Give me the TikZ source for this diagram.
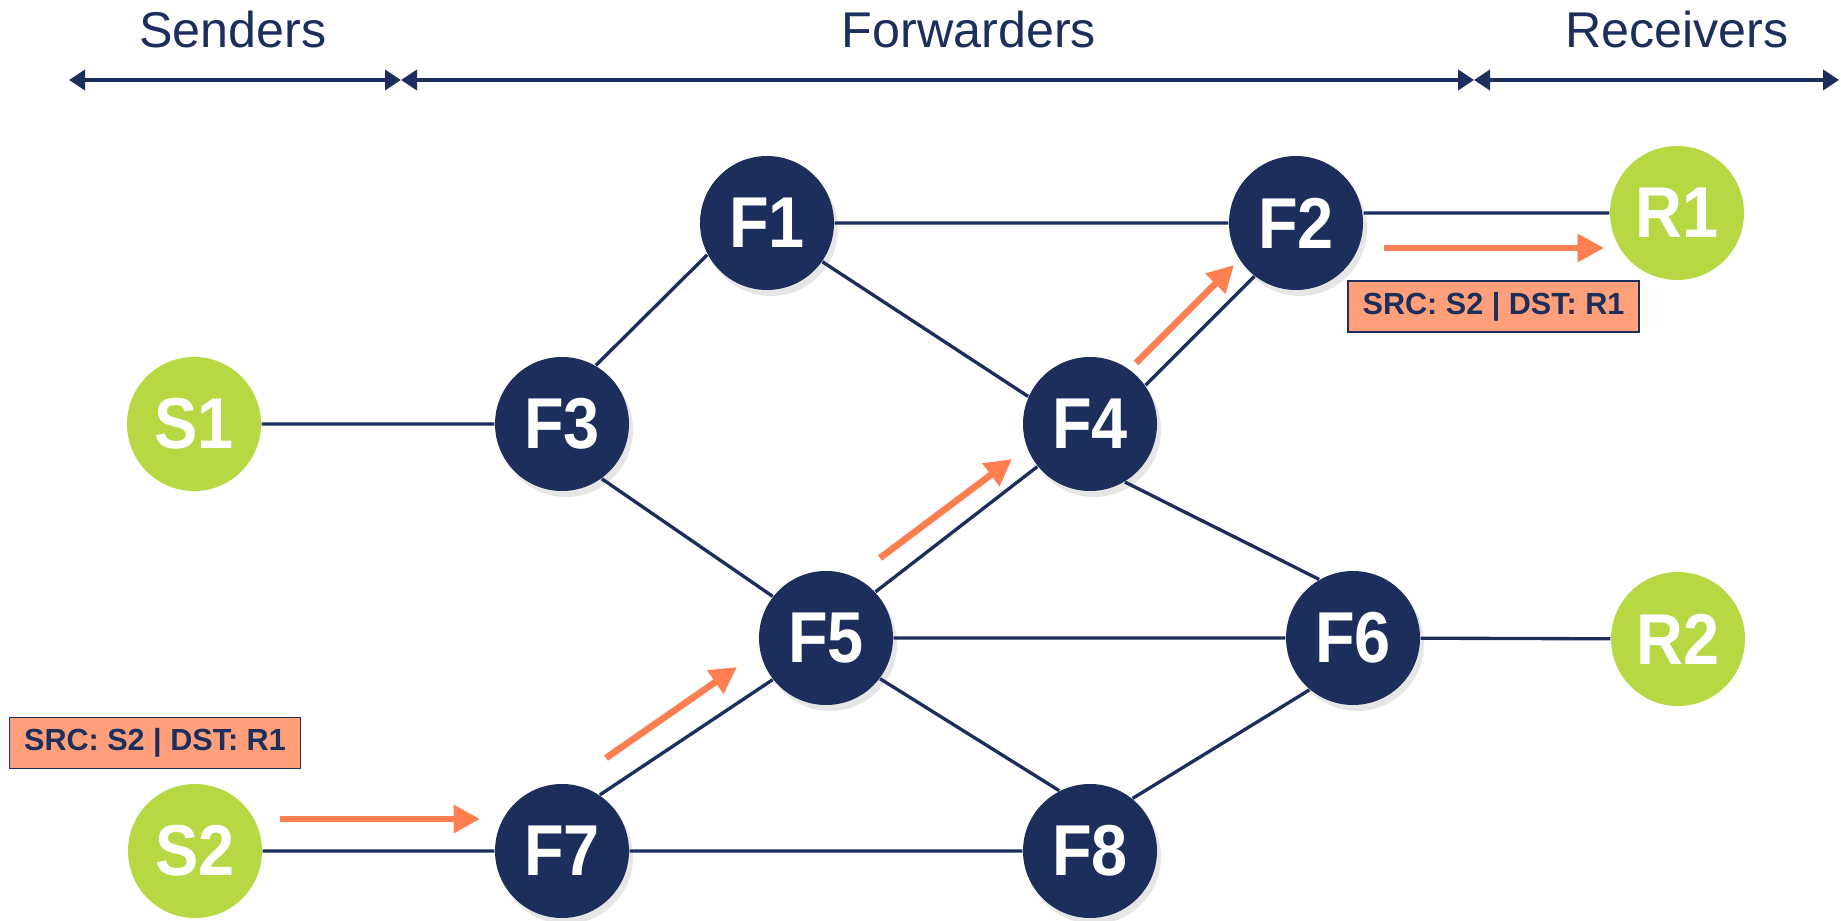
\documentclass[tikz,border=0pt]{standalone}
\usepackage{fontspec}
\setmainfont{Liberation Sans}
\newfontfamily\nodefont[FakeStretch=0.9]{Liberation Sans}
\usetikzlibrary{arrows.meta,shadows}

\definecolor{navy}{HTML}{1C2E5B}
\definecolor{lime}{HTML}{B6D943}
\definecolor{coral}{HTML}{FF7F50}
\definecolor{salmon}{HTML}{FFA07A}

\tikzset{
  host/.style={circle,fill=lime,minimum size=13.4mm,inner sep=0pt,text=white,
    font=\nodefont\bfseries\fontsize{20.5}{24}\selectfont},
  fwd/.style={host,fill=navy,drop shadow={opacity=0.2,shadow xshift=0.4mm,shadow yshift=-0.6mm}},
  wire/.style={navy,line width=0.95pt},
  spanarrow/.style={navy,line width=1.1pt,{Triangle[length=1.6mm,width=2mm]}-{Triangle[length=1.6mm,width=2mm]}},
  flow/.style={coral,line width=1.9pt,-{Triangle[length=2.65mm,width=2.7mm]}},
  hdr/.style={navy,anchor=base,font=\fontsize{14.3}{17}\selectfont},
  pkt/.style={draw=navy,line width=0.5pt,fill=salmon,text=navy,minimum width=29.1mm,
    minimum height=5.1mm,inner sep=0pt,font=\bfseries\fontsize{8.7}{10}\selectfont}
}

\begin{document}
\begin{tikzpicture}[x=0.1mm,y=0.1mm]
\useasboundingbox (0,0) rectangle (1841,920);

% roles along the top
\coordinate (a0) at (69,840);
\coordinate (a1) at (401,840);
\coordinate (a2) at (1474,840);
\coordinate (a3) at (1839,840);
\draw[spanarrow] (a0) -- (a1);
\draw[spanarrow] (a1) -- (a2);
\draw[spanarrow] (a2) -- (a3);
\node[hdr] (senders) at (233,872) {Senders};
\node[hdr] (forwarders) at (969,872) {Forwarders};
\node[hdr] (receivers) at (1677,872) {Receivers};

% hosts
\node[host] (S1) at (194,496) {S1};
\node[host] (S2) at (195,69) {S2};
\node[host] (R1) at (1677,707) {R1};
\node[host] (R2) at (1678,281) {R2};

% forwarders
\node[fwd] (F1) at (767,697) {F1};
\node[fwd] (F2) at (1296,697) {F2};
\node[fwd] (F3) at (562,496) {F3};
\node[fwd] (F4) at (1090,496) {F4};
\node[fwd] (F5) at (826,282) {F5};
\node[fwd] (F6) at (1353,282) {F6};
\node[fwd] (F7) at (562,69) {F7};
\node[fwd] (F8) at (1090,69) {F8};

% links
\draw[wire] (S1) -- (F3) (S2) -- (F7) (F1) -- (F2)
  (F5) -- (F6) (F7) -- (F8) (F6) -- (R2)
  (R1) -- (R1 -| F2.east);
\draw[wire] (F3.60) -- (F1.208) (F3.-54) -- (F5.142)
  (F1.-35) -- (F4.156) (F4.35) -- (F2.232)
  (F4.219) -- (F5.43) (F4.-59) -- (F6.120)
  (F5.218) -- (F7.56) (F5.-37) -- (F8.117)
  (F8.51) -- (F6.230);

% packet headers
\node[pkt] (pkt1) at (155,177) {SRC: S2 | DST: R1};
\node[pkt] (pkt2) at (1493.5,613.5) {SRC: S2 | DST: R1};

% path of the packet
\draw[flow] (280,101) -- (480,101);
\draw[flow] (606,162) -- (737,253);
\draw[flow] (880,362) -- (1012,461);
\draw[flow] (1136,557) -- (1234,655);
\draw[flow] (1384,672) -- (1604,672);
\end{tikzpicture}
\end{document}
